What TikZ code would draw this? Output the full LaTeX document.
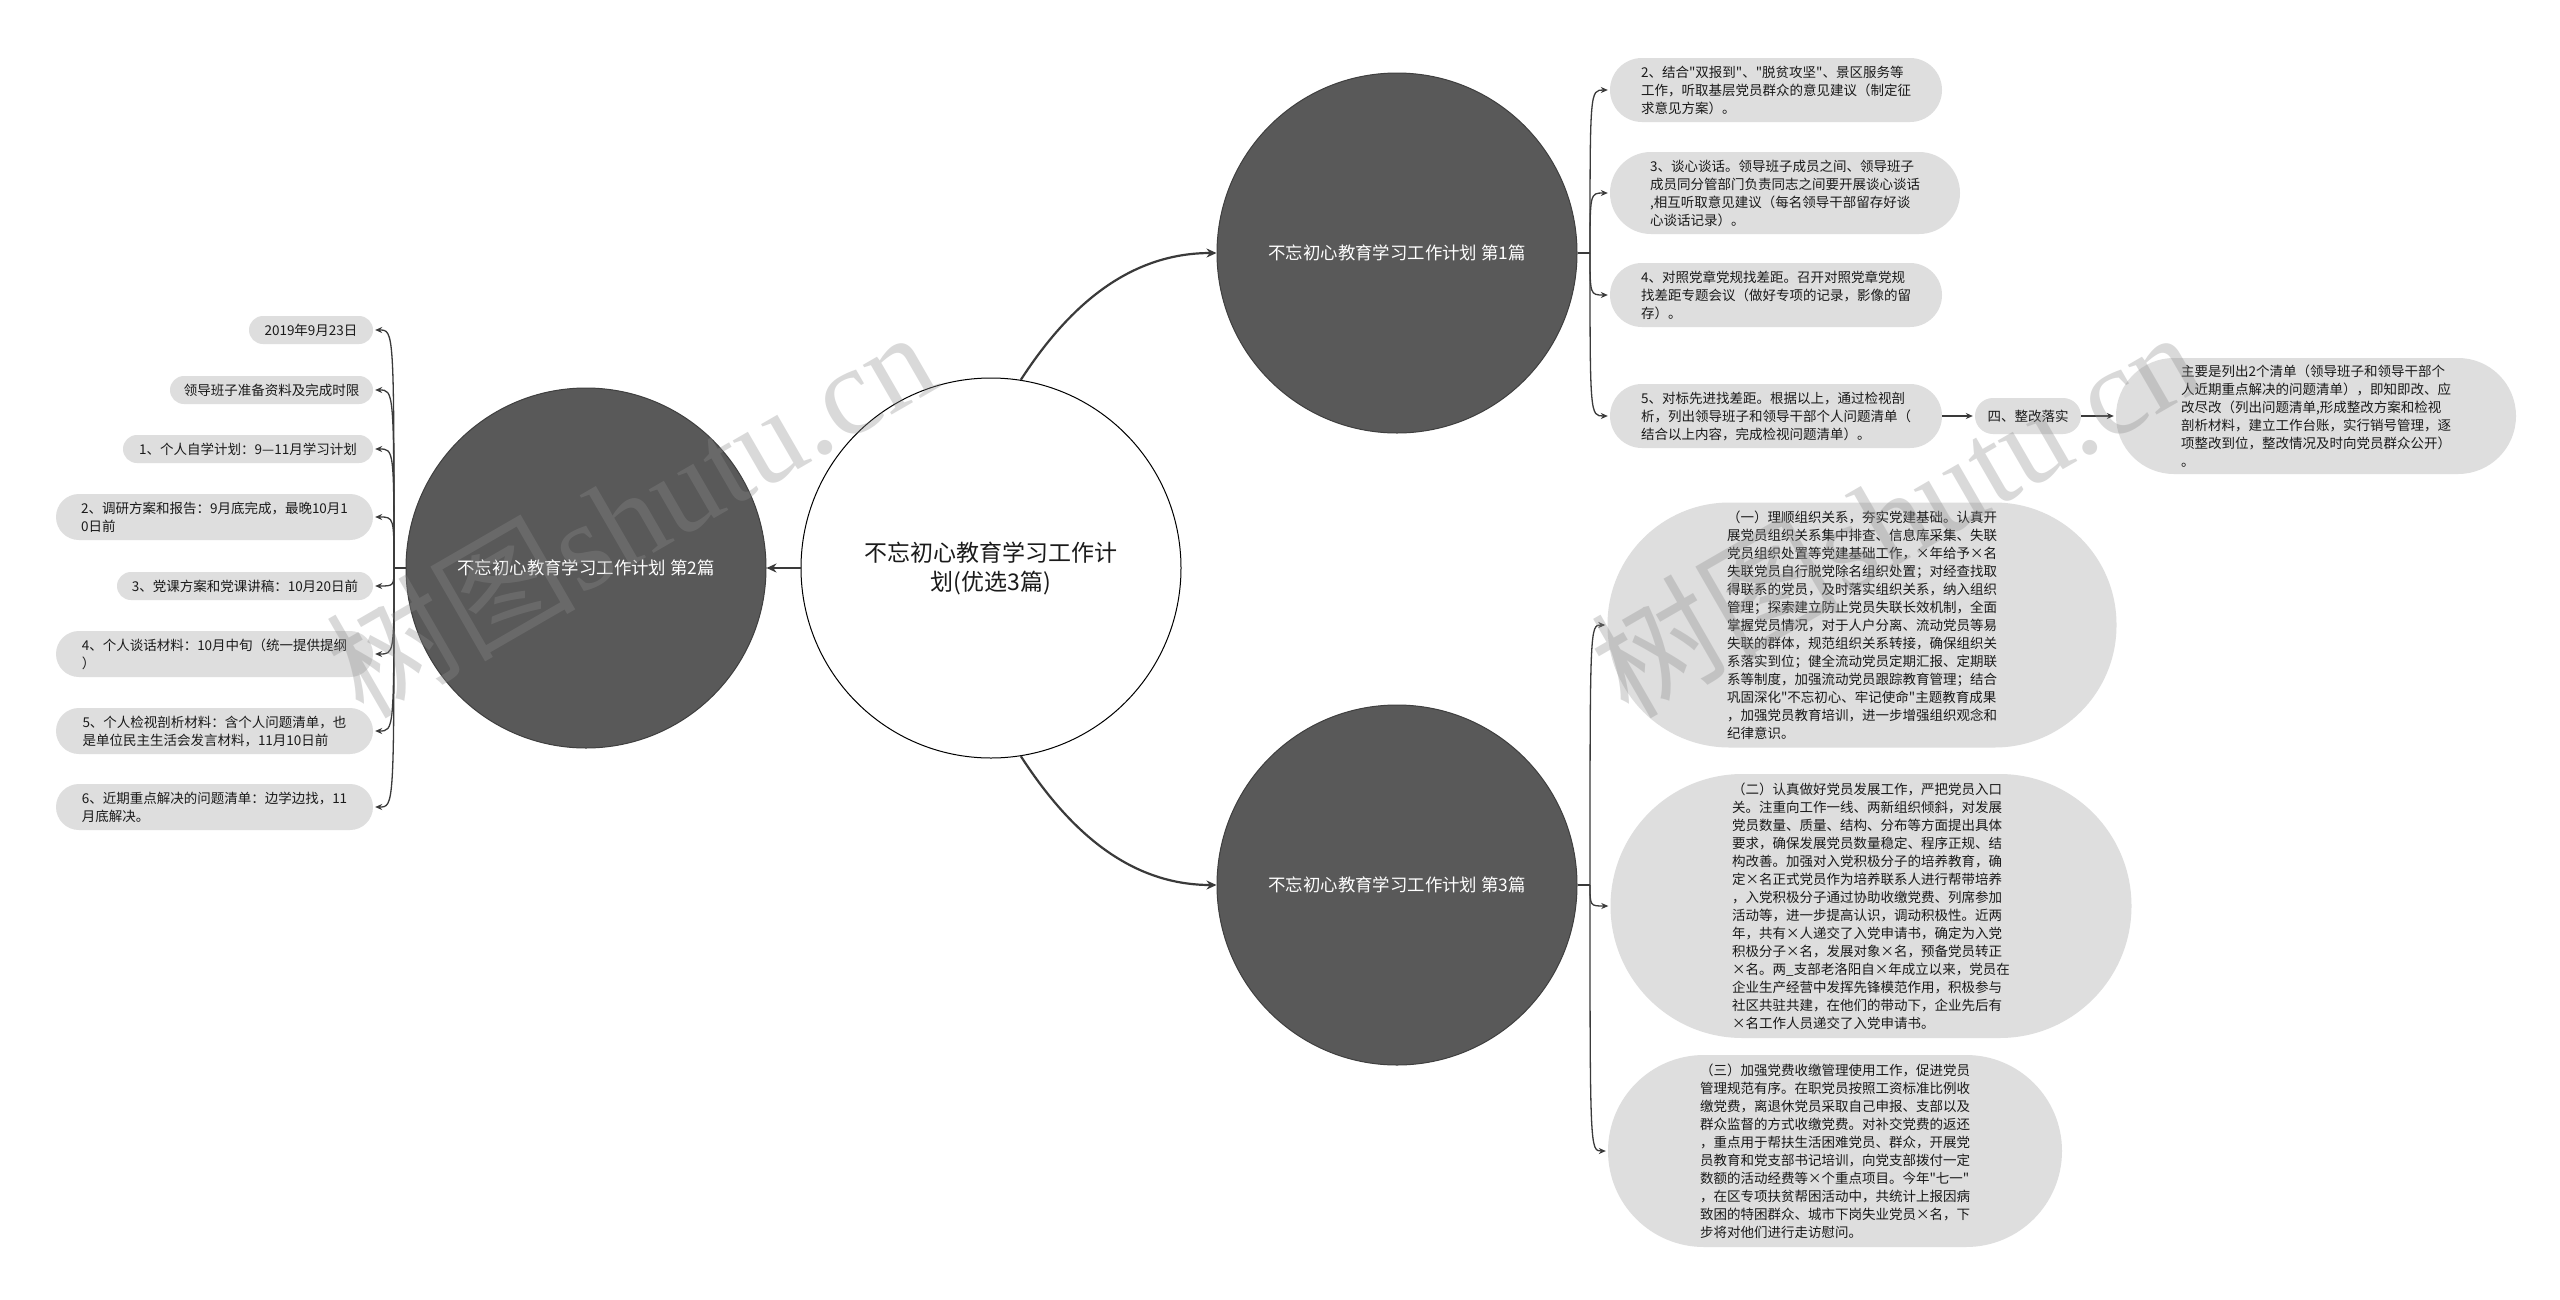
\documentclass[tikz,border=0pt]{standalone}
\usepackage{fontspec}
\setmainfont{Noto Sans CJK SC}
\newfontfamily\cjk{Noto Sans CJK SC}
\newfontfamily\wmserif{Liberation Serif}
\usetikzlibrary{arrows.meta}
\definecolor{topicgray}{HTML}{595959}
\definecolor{topicedge}{HTML}{3F3F3F}
\definecolor{leafgray}{HTML}{DEDEDE}
\definecolor{linegray}{HTML}{3A3A3A}
\definecolor{inkgray}{HTML}{1A1A1A}
\definecolor{wmgray}{HTML}{8C8C8C}
\begin{document}
\begin{tikzpicture}[x=1pt,y=-1pt,
  hub/.style={circle, draw=black, line width=1pt, fill=white, minimum size=380pt, inner sep=0pt, align=center, font=\cjk\fontsize{23}{29}\selectfont, text=inkgray},
  topic/.style={circle, draw=topicedge, line width=1pt, fill=topicgray, minimum size=360pt, inner sep=0pt, text=white, font=\cjk\fontsize{17.4}{21}\selectfont},
  leaf/.style n args={3}{rectangle, fill=leafgray, minimum width=#1, minimum height=#2, rounded corners=#3, inner sep=0pt, align=left, text=inkgray, font=\cjk\fontsize{13.5}{18}\selectfont},
  link/.style={draw=linegray, line width=1.3pt},
  arr/.style={link, -{Stealth[length=7pt,width=6pt]}},
  mainarr/.style={draw=linegray, line width=2.2pt, -{Stealth[length=10pt,width=9pt]}},
  wm/.style={text=wmgray, opacity=0.33, font=\fontsize{125}{130}\selectfont, inner sep=0pt}
]
\fill[white] (0,0) rectangle (2560,1299);
\path[use as bounding box] (0,0) rectangle (2560,1299);

% main nodes
\node[hub] (center) at (991,568) {不忘初心教育学习工作计\\划(优选3篇)};
\node[topic] (c1) at (1397,253) {不忘初心教育学习工作计划 第1篇};
\node[topic] (c2) at (586,568) {不忘初心教育学习工作计划 第2篇};
\node[topic] (c3) at (1397,885) {不忘初心教育学习工作计划 第3篇};

% left leaves
\node[leaf={124pt}{28pt}{14pt}] (l1) at (311,330) {2019年9月23日};
\node[leaf={203pt}{28pt}{14pt}] (l2) at (271.5,390) {领导班子准备资料及完成时限};
\node[leaf={250pt}{28pt}{14pt}] (l3) at (248,449) {1、个人自学计划：9—11月学习计划};
\node[leaf={317pt}{46pt}{23pt}] (l4) at (214.5,517) {2、调研方案和报告：9月底完成，最晚10月1\\0日前};
\node[leaf={256pt}{28pt}{14pt}] (l5) at (245,586) {3、党课方案和党课讲稿：10月20日前};
\node[leaf={317pt}{46pt}{23pt}] (l6) at (214.5,654) {4、个人谈话材料：10月中旬（统一提供提纲\\）};
\node[leaf={317pt}{46pt}{23pt}] (l7) at (214.5,731) {5、个人检视剖析材料：含个人问题清单，也\\是单位民主生活会发言材料，11月10日前};
\node[leaf={317pt}{46pt}{23pt}] (l8) at (214.5,807) {6、近期重点解决的问题清单：边学边找，11\\月底解决。};

% right leaves of topic 1
\node[leaf={332pt}{64pt}{32pt}] (c1a) at (1776,90) {2、结合"双报到"、"脱贫攻坚"、景区服务等\\工作，听取基层党员群众的意见建议（制定征\\求意见方案）。};
\node[leaf={350pt}{82pt}{41pt}] (c1b) at (1785,193) {3、谈心谈话。领导班子成员之间、领导班子\\成员同分管部门负责同志之间要开展谈心谈话\\,相互听取意见建议（每名领导干部留存好谈\\心谈话记录）。};
\node[leaf={332pt}{64pt}{32pt}] (c1c) at (1776,295) {4、对照党章党规找差距。召开对照党章党规\\找差距专题会议（做好专项的记录，影像的留\\存）。};
\node[leaf={332pt}{64pt}{32pt}] (c1d) at (1776,416) {5、对标先进找差距。根据以上，通过检视剖\\析，列出领导班子和领导干部个人问题清单（\\结合以上内容，完成检视问题清单）。};
\node[leaf={106pt}{36pt}{18pt}] (fix) at (2028,416) {四、整改落实};
\node[leaf={400pt}{116pt}{58pt}] (list) at (2316,416) {主要是列出2个清单（领导班子和领导干部个\\人近期重点解决的问题清单），即知即改、应\\改尽改（列出问题清单,形成整改方案和检视\\剖析材料，建立工作台账，实行销号管理，逐\\项整改到位，整改情况及时向党员群众公开）\\。};

% right leaves of topic 3
\node[leaf={509pt}{245pt}{122pt}] (c3a) at (1862,625) {（一）理顺组织关系，夯实党建基础。认真开\\展党员组织关系集中排查、信息库采集、失联\\党员组织处置等党建基础工作，×年给予×名\\失联党员自行脱党除名组织处置；对经查找取\\得联系的党员，及时落实组织关系，纳入组织\\管理；探索建立防止党员失联长效机制，全面\\掌握党员情况，对于人户分离、流动党员等易\\失联的群体，规范组织关系转接，确保组织关\\系落实到位；健全流动党员定期汇报、定期联\\系等制度，加强流动党员跟踪教育管理；结合\\巩固深化"不忘初心、牢记使命"主题教育成果\\，加强党员教育培训，进一步增强组织观念和\\纪律意识。};
\node[leaf={521pt}{264pt}{132pt}] (c3b) at (1871,906) {（二）认真做好党员发展工作，严把党员入口\\关。注重向工作一线、两新组织倾斜，对发展\\党员数量、质量、结构、分布等方面提出具体\\要求，确保发展党员数量稳定、程序正规、结\\构改善。加强对入党积极分子的培养教育，确\\定×名正式党员作为培养联系人进行帮带培养\\，入党积极分子通过协助收缴党费、列席参加\\活动等，进一步提高认识，调动积极性。近两\\年，共有×人递交了入党申请书，确定为入党\\积极分子×名，发展对象×名，预备党员转正\\×名。两\_支部老洛阳自×年成立以来，党员在\\企业生产经营中发挥先锋模范作用，积极参与\\社区共驻共建，在他们的带动下，企业先后有\\×名工作人员递交了入党申请书。};
\node[leaf={454pt}{192pt}{96pt}] (c3c) at (1835,1151) {（三）加强党费收缴管理使用工作，促进党员\\管理规范有序。在职党员按照工资标准比例收\\缴党费，离退休党员采取自己申报、支部以及\\群众监督的方式收缴党费。对补交党费的返还\\，重点用于帮扶生活困难党员、群众，开展党\\员教育和党支部书记培训，向党支部拨付一定\\数额的活动经费等×个重点项目。今年"七一"\\，在区专项扶贫帮困活动中，共统计上报因病\\致困的特困群众、城市下岗失业党员×名，下\\步将对他们进行走访慰问。};

% connectors from the centre
\draw[mainarr] (center.west) -- (c2.east);
\draw[mainarr] (center.81) .. controls +(39,-60) and +(-97,0) .. (c1.west);
\draw[mainarr] (center.-81) .. controls +(39,60) and +(-97,0) .. (c3.west);

% junctions
\coordinate (j1) at (1590,253);
\coordinate (j2) at (394,568);
\coordinate (j3) at (1590,885);
\draw[link] (c1.east) -- (j1);
\draw[link] (c2.west) -- (j2);
\draw[link] (c3.east) -- (j3);

\foreach \t in {c1a,c1b,c1c,c1d}
  \draw[arr, shorten >=2pt] (j1) .. controls (j1 |- \t.west) and (j1 |- \t.west) .. (\t.west);
\foreach \t in {c3a,c3b,c3c}
  \draw[arr, shorten >=2pt] (j3) .. controls (j3 |- \t.west) and (j3 |- \t.west) .. (\t.west);
\foreach \t in {l1,l2,l3,l4,l5,l6,l7,l8}
  \draw[arr, shorten >=2pt] (j2) .. controls (j2 |- \t.east) and (j2 |- \t.east) .. (\t.east);

\draw[arr, shorten >=2pt] (c1d.east) -- (fix.west);
\draw[arr, shorten >=2pt] (fix.east) -- (list.west);

% watermarks
\node[wm, rotate=30] (wm1) at (630,512) {{\cjk 树图}{\wmserif shutu.cn}};
\node[wm, rotate=30] (wm2) at (1895,512) {{\cjk 树图}{\wmserif shutu.cn}};
\end{tikzpicture}
\end{document}
